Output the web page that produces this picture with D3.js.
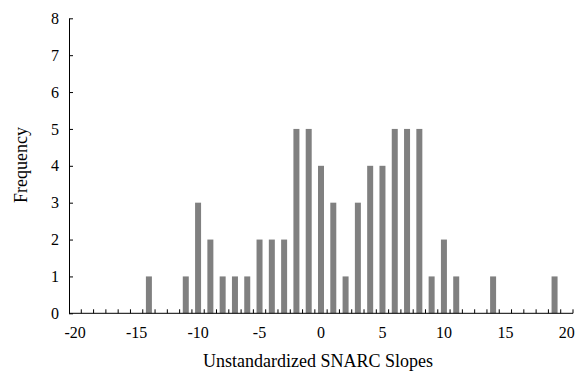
<!DOCTYPE html>
<html><head><meta charset="utf-8">
<script src="https://cdn.jsdelivr.net/npm/d3@7/dist/d3.min.js"></script>
<style>body{margin:0;background:#fff}svg{display:block}text{font-family:"Liberation Serif","Times New Roman",serif}</style>
</head><body><svg id="c" width="580" height="371"></svg>
<script>
const slopes = d3.range(-20, 21);
const freqValues = [0,0,0,0,0,0,1,0,0,1,3,2,1,1,1,2,2,2,5,5,4,3,1,3,4,4,5,5,5,1,2,1,0,0,1,0,0,0,0,1,0];
const xTickLabels = [-20,-15,-10,-5,0,5,10,15,20];
const yTickLabels = [0,1,2,3,4,5,6,7,8];

const svg = d3.select("#c");
const m = {l:69, r:573, t:18.3, b:313.3};
const xb = d3.scaleBand().domain(slopes).range([m.l, m.r]);
const y = d3.scaleLinear().domain([0,8]).range([m.b, m.t]);

svg.append("g").selectAll("rect").data(slopes).join("rect")
  .attr("x", d => xb(d) + (xb.bandwidth()-6)/2)
  .attr("width", 6)
  .attr("y", (d,i) => y(freqValues[i]))
  .attr("height", (d,i) => y(0) - y(freqValues[i]))
  .attr("fill", "#808080");

// y axis
const ya = svg.append("g").attr("transform", `translate(${m.l},0)`)
  .call(d3.axisLeft(y).tickValues(yTickLabels).tickSize(-4).tickSizeOuter(0).tickPadding(10));
ya.select(".domain").attr("stroke", "#000");
ya.selectAll(".tick line").attr("stroke", "#000");
ya.selectAll("text").attr("font-size", 16).attr("fill", "#000").style("font-family", '"Liberation Serif",serif');

// x axis line
svg.append("line").attr("x1", m.l).attr("x2", m.r).attr("y1", m.b).attr("y2", m.b).attr("stroke", "#000");
// band boundary ticks (inward)
svg.append("g").selectAll("line").data(slopes).join("line")
  .attr("x1", d => xb(d) + xb.bandwidth()).attr("x2", d => xb(d) + xb.bandwidth())
  .attr("y1", m.b).attr("y2", m.b - 4).attr("stroke", "#000");
// x tick labels
svg.append("g").selectAll("text").data(xTickLabels).join("text")
  .attr("x", d => xb(d) + xb.bandwidth()/2)
  .attr("y", 338)
  .attr("text-anchor", "middle").attr("font-size", 16).attr("fill", "#000")
  .text(d => d);

svg.append("text").attr("x", 318).attr("y", 367).attr("text-anchor", "middle")
  .attr("font-size", 18).attr("fill", "#000").text("Unstandardized SNARC Slopes");
svg.append("text").attr("transform", "translate(27,165) rotate(-90)").attr("text-anchor", "middle")
  .attr("font-size", 18).attr("fill", "#000").text("Frequency");
</script></body></html>
